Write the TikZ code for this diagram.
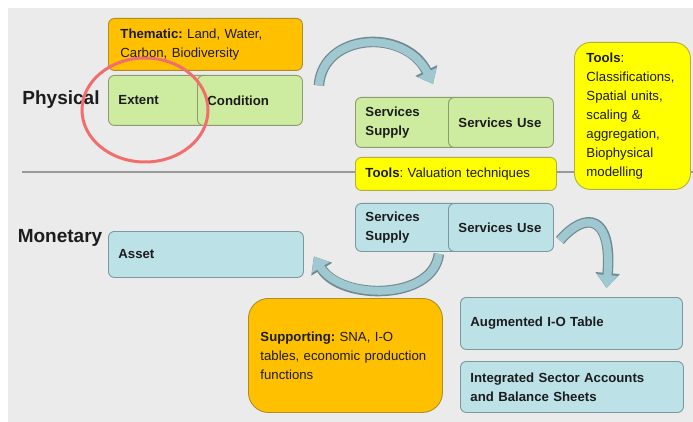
\documentclass[tikz,border=0pt]{standalone}
\usepackage{fontspec}
\setmainfont{Liberation Sans}
\usepackage{tikz}
\usetikzlibrary{arrows.meta}

\definecolor{pagebg}{RGB}{235,235,235}
\definecolor{txt}{RGB}{28,28,28}
\definecolor{greenfill}{RGB}{206,236,160}
\definecolor{greenline}{RGB}{140,156,112}
\definecolor{bluefill}{RGB}{188,226,232}
\definecolor{blueline}{RGB}{122,152,158}
\definecolor{orangefill}{RGB}{255,192,0}
\definecolor{orangeline}{RGB}{176,140,40}
\definecolor{yellowfill}{RGB}{255,255,0}
\definecolor{yellowline}{RGB}{176,176,60}
\definecolor{arrowlight}{RGB}{160,200,209}
\definecolor{arrowdark}{RGB}{112,138,144}
\definecolor{ringred}{RGB}{242,110,110}

\newcommand{\boxfont}{\fontsize{13.2}{19}\selectfont\frenchspacing}

\begin{document}
\begin{tikzpicture}[x=1pt,y=-1pt,
  box/.style={anchor=north west, rounded corners=6pt, inner xsep=10pt, inner ysep=0pt,
    align=left, font=\boxfont, text=txt, line width=0.9pt},
  greenbox/.style={box, fill=greenfill, draw=greenline},
  bluebox/.style={box, fill=bluefill, draw=blueline},
  orangebox/.style={box, fill=orangefill, draw=orangeline},
  yellowbox/.style={box, fill=yellowfill, draw=yellowline},
  rowlabel/.style={font=\bfseries\fontsize{19}{22}\selectfont, text=txt},
  bigarrow/.style={line width=8pt, arrowlight, -{Triangle[width=20pt,length=13pt]},
    preaction={draw, line width=10.5pt, arrowdark, -{Triangle[width=23.5pt,length=15pt]}}},
  ring/.style={draw=ringred, line width=3pt}]
\useasboundingbox (0,0) rectangle (693,422);
\fill[white] (0,0) rectangle (693,422);
\fill[pagebg] (8,8) rectangle (693,422);
\draw[line width=1.5pt, black!40] (22,172) -- (693,172);

\node[rowlabel] (physical) at (61,100) {Physical};
\node[rowlabel] (monetary) at (60,238) {Monetary};

\node[orangebox, text width=170pt, inner xsep=12pt, minimum height=52pt] (thematic) at (108,18)
  {\textbf{Thematic:} Land, Water,\\Carbon, Biodiversity};
\node[greenbox, text width=82pt, minimum height=50pt] (extent) at (108,75) {\textbf{Extent}};
\node[greenbox, text width=85pt, minimum height=50pt] (cond) at (197,75) {\textbf{Condition}};

\node[greenbox, text width=85pt, minimum height=50pt] (psupply) at (355,97) {\textbf{Services}\\\textbf{Supply}};
\node[greenbox, text width=85pt, minimum height=50pt] (puse) at (448,97) {\textbf{Services Use}};
\node[yellowbox, text width=181pt, minimum height=33pt] (valtools) at (355,157) {\textbf{Tools}: Valuation techniques};
\node[yellowbox, rounded corners=16pt, text width=92pt, inner xsep=12pt, minimum height=147pt] (tools) at (574,42)
  {\textbf{Tools}:\\Classifications,\\Spatial units,\\scaling \&\\aggregation,\\Biophysical\\modelling};

\node[bluebox, text width=175pt, minimum height=46pt] (asset) at (108,231) {\textbf{Asset}};
\node[bluebox, text width=85pt, minimum height=48pt] (msupply) at (355,203) {\textbf{Services}\\\textbf{Supply}};
\node[bluebox, text width=85pt, minimum height=48pt] (muse) at (448,203) {\textbf{Services Use}};

\node[orangebox, rounded corners=20pt, text width=170pt, inner xsep=12pt, minimum height=114pt] (support) at (248,298)
  {\textbf{Supporting:} SNA, I-O\\tables, economic production\\functions};
\node[bluebox, text width=202pt, minimum height=52pt] (augio) at (460,297) {\textbf{Augmented I-O Table}};
\node[bluebox, text width=203pt, minimum height=51pt] (sector) at (460,361)
  {\textbf{Integrated Sector Accounts}\\\textbf{and Balance Sheets}};

\draw[bigarrow] ([xshift=16pt,yshift=15pt]cond.east) .. controls +(4,-53) and +(-28,-56) .. ([xshift=-15pt,yshift=13pt]puse.north west);
\draw[bigarrow] ([xshift=-22pt,yshift=-2pt]msupply.south east) .. controls +(-6,47) and +(27,44) .. ([xshift=10pt,yshift=-2pt]asset.east);
\draw[bigarrow] ([xshift=6pt,yshift=-13pt]muse.east) .. controls +(26,-30) and +(6,-73) .. ([xshift=35pt,yshift=9pt]augio.north);

\draw[ring] (145,110) ellipse [x radius=63pt, y radius=52pt];
\end{tikzpicture}
\end{document}
